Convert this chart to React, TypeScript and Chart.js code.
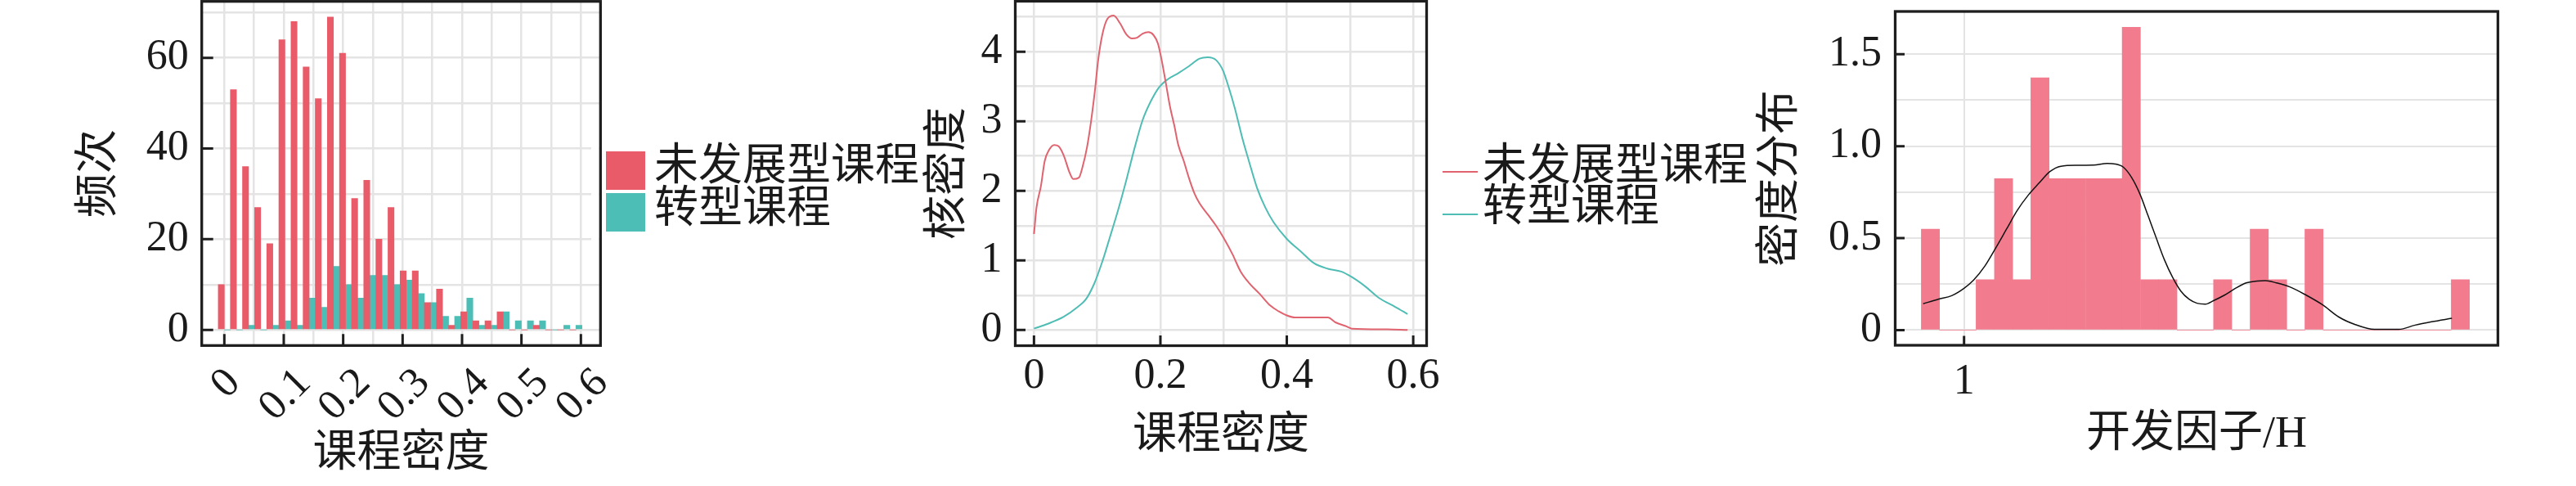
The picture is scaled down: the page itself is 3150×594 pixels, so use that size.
import React, { useEffect, useRef } from 'react';
import { Chart, registerables } from 'chart.js';

Chart.register(...registerables);

// ---------------- Data ----------------
// Panel 1: histogram of course density (30 bins, dodged)
const densityBinCenters = [
  0, 0.0204, 0.0408, 0.0612, 0.0816, 0.102, 0.1224, 0.1428, 0.1632, 0.1836,
  0.204, 0.2244, 0.2448, 0.2652, 0.2856, 0.306, 0.3264, 0.3468, 0.3672, 0.3876,
  0.408, 0.4284, 0.4488, 0.4692, 0.4896, 0.51, 0.5304, 0.5508, 0.5712, 0.5916,
];
const undevelopedCounts = [
  10, 53, 36, 27, 19, 64, 68, 58, 51, 69,
  61, 29, 33, 20, 27, 13, 13, 6, 9, 1,
  4, 2, 2, 4, 0, 0, 1, 0, 0, 0,
];
const transformedCounts = [
  0, 0, 1, 0, 1, 2, 1, 7, 5, 14,
  10, 7, 12, 12, 10, 11, 8, 6, 3, 3,
  7, 1, 1, 4, 2, 2, 2, 0, 1, 1,
];
const histXGrid = [0, 0.05, 0.1, 0.15, 0.2, 0.25, 0.3, 0.35, 0.4, 0.45, 0.5, 0.55, 0.6];
const histXTicks = [0, 0.1, 0.2, 0.3, 0.4, 0.5, 0.6];
const histXTickLabels = ['0', '0.1', '0.2', '0.3', '0.4', '0.5', '0.6'];
const histYGrid = [0, 10, 20, 30, 40, 50, 60, 70];
const histYTicks = [0, 20, 40, 60];

// Panel 2: kernel density curves
const kdeUndevelopedX = [
  0, 0.004, 0.011, 0.017, 0.024, 0.032, 0.039, 0.047, 0.056, 0.062, 0.071, 0.077, 0.084,
  0.09, 0.097, 0.101, 0.108, 0.116, 0.126, 0.136, 0.146, 0.155, 0.163, 0.172, 0.181,
  0.189, 0.196, 0.202, 0.209, 0.215, 0.222, 0.228, 0.237, 0.245, 0.254, 0.262, 0.275,
  0.288, 0.301, 0.314, 0.327, 0.34, 0.357, 0.374, 0.387, 0.4, 0.413, 0.465, 0.477,
  0.495, 0.503, 0.559, 0.591,
];
const kdeUndevelopedY = [
  1.38, 1.76, 2.07, 2.43, 2.59, 2.66, 2.64, 2.51, 2.27, 2.17, 2.19, 2.35, 2.63,
  2.98, 3.49, 3.84, 4.24, 4.47, 4.52, 4.41, 4.25, 4.19, 4.2, 4.26, 4.28,
  4.24, 4.12, 3.88, 3.53, 3.22, 2.94, 2.67, 2.43, 2.19, 1.96, 1.82, 1.66,
  1.5, 1.31, 1.09, 0.84, 0.68, 0.52, 0.35, 0.27, 0.21, 0.18, 0.18, 0.11,
  0.05, 0.02, 0.01, 0.0,
];
const kdeTransformedX = [
  0, 0.022, 0.047, 0.069, 0.082, 0.095, 0.108, 0.12, 0.133, 0.146, 0.159, 0.172, 0.185,
  0.198, 0.211, 0.228, 0.245, 0.262, 0.275, 0.288, 0.299, 0.308, 0.318, 0.329, 0.34,
  0.353, 0.366, 0.379, 0.4, 0.422, 0.443, 0.465, 0.486, 0.503, 0.525, 0.546, 0.572, 0.591,
];
const kdeTransformedY = [
  0.02, 0.09, 0.19, 0.33, 0.44, 0.66, 0.98, 1.33, 1.72, 2.15, 2.61, 3.02, 3.29,
  3.49, 3.6, 3.69, 3.79, 3.9, 3.92, 3.88, 3.73, 3.49, 3.18, 2.78, 2.43,
  2.04, 1.76, 1.55, 1.31, 1.13, 0.96, 0.88, 0.84, 0.76, 0.62, 0.46, 0.33, 0.23,
];
const kdeXGrid = [0, 0.1, 0.2, 0.3, 0.4, 0.5, 0.6];
const kdeXTicks = [0, 0.2, 0.4, 0.6];
const kdeYGrid = [0, 0.5, 1, 1.5, 2, 2.5, 3, 3.5, 4, 4.5];
const kdeYTicks = [0, 1, 2, 3, 4];

// Panel 3: development factor histogram (density) + density curve
const factorBinCenters = [
  0.828, 0.921, 1.015, 1.108, 1.202, 1.295, 1.388, 1.482, 1.575, 1.669,
  1.762, 1.855, 1.949, 2.042, 2.136, 2.229, 2.322, 2.416, 2.509, 2.603,
  2.696, 2.789, 2.883, 2.976, 3.07, 3.163, 3.256, 3.35, 3.443, 3.537,
];
const factorDensity = [
  0.549, 0, 0, 0.274, 0.823, 0.274, 1.372, 0.823, 0.823, 0.823,
  0.823, 1.646, 0.274, 0.274, 0, 0, 0.274, 0, 0.549, 0.274,
  0, 0.549, 0, 0, 0, 0, 0, 0, 0, 0.274,
];
const factorCurveX = [
  0.791, 0.868, 0.937, 1.0, 1.049, 1.105, 1.16, 1.216, 1.272, 1.327, 1.383, 1.439,
  1.495, 1.578, 1.662, 1.732, 1.773, 1.815, 1.857, 1.899, 1.941, 1.982, 2.024, 2.066,
  2.108, 2.15, 2.191, 2.233, 2.275, 2.331, 2.387, 2.442, 2.498, 2.54, 2.596, 2.665,
  2.749, 2.832, 2.916, 3.0, 3.097, 3.222, 3.306, 3.39, 3.494,
];
const factorCurveY = [
  0.143, 0.168, 0.187, 0.227, 0.272, 0.346, 0.443, 0.547, 0.651, 0.732, 0.799, 0.862,
  0.891, 0.896, 0.897, 0.906, 0.903, 0.885, 0.829, 0.74, 0.621, 0.502, 0.383, 0.287,
  0.212, 0.168, 0.146, 0.141, 0.16, 0.19, 0.227, 0.257, 0.267, 0.269, 0.257, 0.235,
  0.19, 0.138, 0.071, 0.03, 0.004, 0.004, 0.027, 0.045, 0.064,
];
const factorXTicks = [1];
const factorYGrid = [0, 0.25, 0.5, 0.75, 1, 1.25, 1.5];
const factorYTicks = [0, 0.5, 1, 1.5];
const factorYTickLabels = ['0', '0.5', '1.0', '1.5'];

const seriesNames = ['未发展型课程', '转型课程'];

// ---------------- Styles ----------------
const SERIF = "'Liberation Serif', 'Times New Roman', serif";
const SERIF_CJK = "'Liberation Serif', 'Noto Sans CJK SC', serif";
const TEXT = '#1a1a1a';
const FRAME = '#1e1e1e';
const GRID = '#e4e4e4';
const RED = '#E95B68';
const TEAL = '#4DBEB5';
const RED_LINE = '#E0646F';
const TEAL_LINE = '#50BDB5';
const PINK = '#F27B8E';
const H = 594;

const fixedSize = (size: number, dim: 'width' | 'height') => (s: any) => {
  s[dim] = size;
  s.paddingLeft = 0;
  s.paddingRight = 0;
  s.paddingTop = 0;
  s.paddingBottom = 0;
};
const setTicks = (vals: number[]) => (s: any) => {
  s.ticks = vals.map((v) => ({ value: v }));
};

function decorPlugin(d: any) {
  return {
    id: 'decor',
    afterDraw(chart: any) {
      const { ctx, chartArea: a } = chart;
      const xs = chart.scales.x;
      const ys = chart.scales.y;
      ctx.save();
      if (d.cover) {
        ctx.fillStyle = '#ffffff';
        ctx.fillRect(d.cover.x, d.cover.y, d.cover.w, d.cover.h);
      }
      // inward tick marks
      ctx.strokeStyle = FRAME;
      ctx.lineWidth = d.tickWidth;
      ctx.beginPath();
      d.yTicks.forEach((v: number) => {
        const p = ys.getPixelForValue(v);
        ctx.moveTo(a.left, p);
        ctx.lineTo(a.left + d.tickLen, p);
      });
      d.xTicks.forEach((v: number) => {
        const p = xs.getPixelForValue(v);
        ctx.moveTo(p, a.bottom);
        ctx.lineTo(p, a.bottom - d.tickLen);
      });
      ctx.stroke();
      // panel border
      ctx.lineWidth = d.frameWidth;
      ctx.strokeRect(a.left, a.top, a.right - a.left, a.bottom - a.top);
      // rotated x tick labels
      if (d.rotated) {
        ctx.fillStyle = TEXT;
        ctx.font = `52px ${SERIF}`;
        ctx.textAlign = 'left';
        ctx.textBaseline = 'alphabetic';
        d.rotated.values.forEach((v: number, i: number) => {
          const t = d.rotated.labels[i];
          const m = ctx.measureText(t);
          const w = m.width;
          const asc = m.actualBoundingBoxAscent;
          const desc = m.actualBoundingBoxDescent;
          const box = (w + asc + desc) * Math.SQRT1_2;
          const cx = xs.getPixelForValue(v);
          const cy = d.rotated.top + box / 2;
          ctx.save();
          ctx.translate(cx, cy);
          ctx.rotate(-Math.PI / 4);
          ctx.fillText(t, -w / 2, (asc - desc) / 2);
          ctx.restore();
        });
      }
      // legend
      if (d.legend) {
        const L = d.legend;
        ctx.font = `54px ${SERIF_CJK}`;
        ctx.textAlign = 'left';
        ctx.textBaseline = 'middle';
        chart.data.datasets.forEach((ds: any, i: number) => {
          const color = L.kind === 'box' ? ds.backgroundColor : ds.borderColor;
          if (L.kind === 'box') {
            ctx.fillStyle = color;
            ctx.fillRect(L.markX, L.markY[i] - L.markH / 2, L.markW, L.markH);
          } else {
            ctx.strokeStyle = color;
            ctx.lineWidth = 2;
            ctx.beginPath();
            ctx.moveTo(L.markX, L.markY[i]);
            ctx.lineTo(L.markX + L.markW, L.markY[i]);
            ctx.stroke();
          }
          ctx.fillStyle = TEXT;
          ctx.fillText(ds.label, L.textX, L.textY[i]);
        });
      }
      ctx.restore();
    },
  };
}

const titleFont = { family: SERIF_CJK, size: 54 };
const tickFont = { family: SERIF, size: 52 };

function baseOptions(pad: any) {
  return {
    responsive: false,
    animation: false,
    devicePixelRatio: 1,
    layout: { padding: pad, autoPadding: false },
    plugins: { legend: { display: false }, tooltip: { enabled: false } },
  };
}

function histogramConfig(): any {
  return {
    type: 'bar',
    data: {
      datasets: [
        {
          label: seriesNames[0],
          data: densityBinCenters.map((x, i) => ({ x, y: undevelopedCounts[i] })),
          backgroundColor: RED,
          borderWidth: 0,
          categoryPercentage: 1,
          barPercentage: 1,
        },
        {
          label: seriesNames[1],
          data: densityBinCenters.map((x, i) => ({ x, y: transformedCounts[i] })),
          backgroundColor: TEAL,
          borderWidth: 0,
          categoryPercentage: 1,
          barPercentage: 1,
        },
      ],
    },
    options: {
      ...baseOptions({ left: 0, top: 1.7, right: 400.7, bottom: 0 }),
      scales: {
        x: {
          type: 'linear',
          min: -0.038,
          max: 0.633,
          offset: false,
          grid: { color: GRID, lineWidth: 2.5, drawTicks: false, offset: false },
          border: { display: false },
          ticks: { display: false, autoSkip: false },
          afterBuildTicks: setTicks(histXGrid),
          title: { display: true, text: '课程密度', font: titleFont, color: TEXT, padding: { top: 0, bottom: 5.6 } },
          afterFit: fixedSize(171.7, 'height'),
        },
        y: {
          type: 'linear',
          min: -3.45,
          max: 72.45,
          grid: { color: GRID, lineWidth: 2.5, drawTicks: false },
          border: { display: false },
          ticks: {
            font: tickFont,
            color: TEXT,
            padding: 16,
            autoSkip: false,
            callback: (v: number) => (histYTicks.includes(v) ? String(v) : ''),
          },
          afterBuildTicks: setTicks(histYGrid),
          title: { display: true, text: '频次', font: titleFont, color: TEXT, padding: { top: 90.6, bottom: 0 } },
          afterFit: fixedSize(246.7, 'width'),
        },
      },
    },
    plugins: [
      decorPlugin({
        frameWidth: 3.3,
        tickLen: 14,
        tickWidth: 3,
        xTicks: histXTicks,
        yTicks: histYTicks,
        rotated: { values: histXTicks, labels: histXTickLabels, top: 445 },
        cover: { x: 723, y: 171, w: 9.5, h: 123 },
        legend: {
          kind: 'box',
          markX: 741,
          markW: 48,
          markH: 47,
          markY: [208.5, 259.5],
          textX: 800,
          textY: [206, 258],
        },
      }),
    ],
  };
}

function kdeConfig(): any {
  const OFF = 1128;
  return {
    type: 'line',
    data: {
      datasets: [
        {
          label: seriesNames[0],
          data: kdeUndevelopedX.map((x, i) => ({ x, y: kdeUndevelopedY[i] })),
          borderColor: RED_LINE,
          borderWidth: 2,
          pointRadius: 0,
          tension: 0.4,
          cubicInterpolationMode: 'monotone',
          fill: false,
        },
        {
          label: seriesNames[1],
          data: kdeTransformedX.map((x, i) => ({ x, y: kdeTransformedY[i] })),
          borderColor: TEAL_LINE,
          borderWidth: 2,
          pointRadius: 0,
          tension: 0.4,
          cubicInterpolationMode: 'monotone',
          fill: false,
        },
      ],
    },
    options: {
      ...baseOptions({ left: 0, top: 1.5, right: 1022 - (1744.5 - OFF), bottom: 0 }),
      scales: {
        x: {
          type: 'linear',
          min: -0.0296,
          max: 0.6212,
          offset: false,
          grid: { color: GRID, lineWidth: 2.5, drawTicks: false },
          border: { display: false },
          ticks: {
            font: tickFont,
            color: TEXT,
            padding: 7,
            autoSkip: false,
            maxRotation: 0,
            minRotation: 0,
            callback: (v: number) => (kdeXTicks.includes(v) ? String(v) : ''),
          },
          afterBuildTicks: setTicks(kdeXGrid),
          title: { display: true, text: '课程密度', font: titleFont, color: TEXT, padding: { top: 0, bottom: 27.6 } },
          afterFit: fixedSize(H - 422.5, 'height'),
        },
        y: {
          type: 'linear',
          min: -0.225,
          max: 4.725,
          grid: { color: GRID, lineWidth: 2.5, drawTicks: false },
          border: { display: false },
          ticks: {
            font: tickFont,
            color: TEXT,
            padding: 16,
            autoSkip: false,
            callback: (v: number) => (kdeYTicks.includes(v) ? String(v) : ''),
          },
          afterBuildTicks: setTicks(kdeYGrid),
          title: { display: true, text: '核密度', font: titleFont, color: TEXT, padding: { top: 0.6, bottom: 0 } },
          afterFit: fixedSize(1241.5 - OFF, 'width'),
        },
      },
    },
    plugins: [
      decorPlugin({
        frameWidth: 3.3,
        tickLen: 12.5,
        tickWidth: 3,
        xTicks: kdeXTicks,
        yTicks: kdeYTicks,
        legend: {
          kind: 'line',
          markX: 1764 - OFF,
          markW: 43,
          markY: [210, 262],
          textX: 1813 - OFF,
          textY: [206, 256],
        },
      }),
    ],
  };
}

function factorConfig(): any {
  const OFF = 2140;
  return {
    type: 'bar',
    data: {
      datasets: [
        {
          type: 'line',
          label: '核密度曲线',
          data: factorCurveX.map((x, i) => ({ x, y: factorCurveY[i] })),
          borderColor: '#111111',
          borderWidth: 1.5,
          pointRadius: 0,
          tension: 0.4,
          cubicInterpolationMode: 'monotone',
          fill: false,
          order: 1,
        },
        {
          type: 'bar',
          label: '密度分布',
          data: factorBinCenters.map((x, i) => ({ x, y: factorDensity[i] })),
          backgroundColor: PINK,
          borderWidth: 0,
          categoryPercentage: 1,
          barPercentage: 1,
          order: 2,
        },
      ],
    },
    options: {
      ...baseOptions({ left: 0, top: 14, right: 1010 - (3054.5 - OFF), bottom: 0 }),
      scales: {
        x: {
          type: 'linear',
          min: 0.648,
          max: 3.729,
          offset: false,
          grid: { color: GRID, lineWidth: 2, drawTicks: false, offset: false },
          border: { display: false },
          ticks: {
            font: tickFont,
            color: TEXT,
            padding: 13.8,
            autoSkip: false,
            maxRotation: 0,
            minRotation: 0,
            callback: (v: number) => String(v),
          },
          afterBuildTicks: setTicks(factorXTicks),
          title: { display: true, text: '开发因子/H', font: titleFont, color: TEXT, padding: { top: 0, bottom: 29.6 } },
          afterFit: fixedSize(H - 422, 'height'),
        },
        y: {
          type: 'linear',
          min: -0.0825,
          max: 1.7325,
          grid: { color: GRID, lineWidth: 2, drawTicks: false },
          border: { display: false },
          ticks: {
            font: tickFont,
            color: TEXT,
            padding: 16.5,
            autoSkip: false,
            callback: (v: number) => {
              const i = factorYTicks.indexOf(v);
              return i >= 0 ? factorYTickLabels[i] : '';
            },
          },
          afterBuildTicks: setTicks(factorYGrid),
          title: { display: true, text: '密度分布', font: titleFont, color: TEXT, padding: { top: 6.6, bottom: 0 } },
          afterFit: fixedSize(2317.5 - OFF, 'width'),
        },
      },
    },
    plugins: [
      decorPlugin({
        frameWidth: 3.3,
        tickLen: 11.5,
        tickWidth: 3,
        xTicks: factorXTicks,
        yTicks: factorYTicks,
      }),
    ],
  };
}

function ChartPanel({ left, width, makeConfig }: { left: number; width: number; makeConfig: () => any }) {
  const ref = useRef<HTMLCanvasElement | null>(null);
  useEffect(() => {
    if (!ref.current) return;
    const chart = new Chart(ref.current, makeConfig());
    return () => chart.destroy();
  }, [makeConfig]);
  return (
    <canvas
      ref={ref}
      width={width}
      height={H}
      style={{ position: 'absolute', left, top: 0, width, height: H }}
    />
  );
}

export default function App() {
  useEffect(() => {
    document.body.style.margin = '0';
  }, []);
  return (
    <div
      style={{
        position: 'fixed',
        left: 0,
        top: 0,
        width: 3150,
        height: H,
        background: '#ffffff',
        overflow: 'hidden',
      }}
    >
      <ChartPanel left={0} width={1135} makeConfig={histogramConfig} />
      <ChartPanel left={1128} width={1022} makeConfig={kdeConfig} />
      <ChartPanel left={2140} width={1010} makeConfig={factorConfig} />
    </div>
  );
}
